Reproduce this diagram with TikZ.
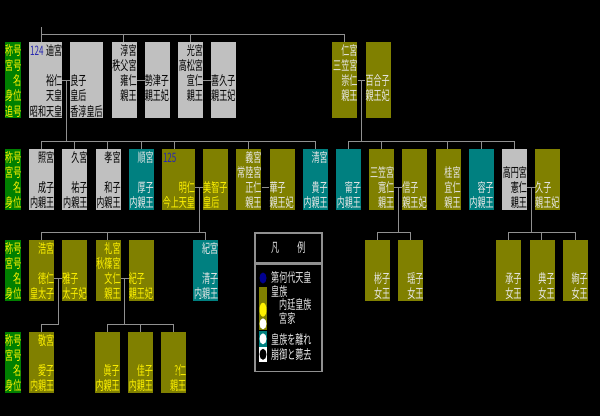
\documentclass[tikz,border=0pt]{standalone}
\usepackage{fontspec}
\usetikzlibrary{positioning,shapes.geometric}

\newfontfamily\jpfam[FakeStretch=0.62]{Noto Sans CJK JP}
\newcommand\jpfont{\jpfam\fontsize{13}{15.2}\selectfont}
\newcommand\kstrut{\rule[-2.2pt]{0pt}{15.2pt}}
\newcommand\rowfour[4]{\kstrut#1\\\kstrut#2\\\kstrut#3\\\kstrut#4}
\newcommand\rowfive[5]{\rowfour{#1}{#2}{#3}{#4}\\\kstrut#5}

\definecolor{kOlive}{HTML}{808000}
\definecolor{kTeal}{HTML}{008080}
\definecolor{kGray}{HTML}{C0C0C0}
\definecolor{kGreen}{HTML}{008000}
\definecolor{kLine}{HTML}{909090}
\definecolor{kPale}{HTML}{E8E8E8}
\definecolor{kNavy}{HTML}{000090}
\definecolor{kNum}{HTML}{2828B0}

\begin{document}
\begin{tikzpicture}[x=1pt,y=-1pt,node distance=7.8pt,
	hako/.style={rectangle,inner sep=0pt,anchor=north west,text width=25pt,align=right,font=\jpfont},
	hiroi/.style={text width=33pt},
	tsuma/.style={align=left},
	naitei/.style={hako,fill=kOlive,text=yellow},
	miyake/.style={hako,fill=kOlive,text=kPale},
	rikan/.style={hako,fill=kTeal,text=kPale},
	hogyo/.style={hako,fill=kGray,text=black},
	koumoku/.style={hako,fill=kGreen,text=yellow,text width=16pt},
	bangou/.style={inner sep=0pt,anchor=north west,text=kNum,font=\jpfont},
	kei/.style={draw=kLine,line width=1pt},
	maru/.style={ellipse,inner sep=0pt,minimum width=7pt,minimum height=11pt},
	iro/.style={rectangle,inner sep=0pt,minimum width=8pt},
	setsumei/.style={anchor=west,inner sep=0pt,text=kPale,font=\jpfont}]

	\useasboundingbox (0,0) rectangle (600,416);
	\fill[black] (0,0) rectangle (600,416);

	% koumoku
	\node[koumoku] (koumoku1) at (5,42) {\rowfive{称号}{宮号}{名}{身位}{追号}};
	\node[koumoku] (koumoku2) at (5,149) {\rowfour{称号}{宮号}{名}{身位}};
	\node[koumoku] (koumoku3) at (5,240) {\rowfour{称号}{宮号}{名}{身位}};
	\node[koumoku] (koumoku4) at (5,332) {\rowfour{称号}{宮号}{名}{身位}};

	% sedai 1
	\node[hogyo,hiroi] (hirohito) at (29,42) {\rowfive{迪宮}{}{裕仁}{天皇}{昭和天皇}};
		\node[bangou] (dai124) at ([xshift=1pt]hirohito.north west) {\kstrut 124};
	\node[hogyo,hiroi,tsuma,right=of hirohito] (nagako) {\rowfive{}{}{良子}{皇后}{香淳皇后}};
	\node[hogyo,right=of nagako] (yasuhito) {\rowfive{淳宮}{秩父宮}{雍仁}{親王}{}};
	\node[hogyo,tsuma,right=of yasuhito] (setsuko) {\rowfive{}{}{勢津子}{親王妃}{}};
	\node[hogyo,right=of setsuko] (nobuhito) {\rowfive{光宮}{高松宮}{宣仁}{親王}{}};
	\node[hogyo,tsuma,right=of nobuhito] (kikuko) {\rowfive{}{}{喜久子}{親王妃}{}};
	\node[miyake] (takahito) at (332.2,42) {\rowfive{仁宮}{三笠宮}{崇仁}{親王}{}};
	\node[miyake,tsuma,right=of takahito] (yuriko) {\rowfive{}{}{百合子}{親王妃}{}};

	% sedai 2
	\node[hogyo] (shigeko) at (29,149) {\rowfour{照宮}{}{成子}{内親王}};
	\node[hogyo,right=of shigeko] (sachiko) {\rowfour{久宮}{}{祐子}{内親王}};
	\node[hogyo,right=of sachiko] (kazuko) {\rowfour{孝宮}{}{和子}{内親王}};
	\node[rikan,right=of kazuko] (atsuko) {\rowfour{順宮}{}{厚子}{内親王}};
	\node[naitei,hiroi,right=of atsuko] (akihito) {\rowfour{}{}{明仁}{今上天皇}};
		\node[bangou] (dai125) at ([xshift=1pt]akihito.north west) {\kstrut 125};
	\node[naitei,tsuma,right=of akihito] (michiko) {\rowfour{}{}{美智子}{皇后}};
	\node[miyake,right=of michiko] (masahito) {\rowfour{義宮}{常陸宮}{正仁}{親王}};
	\node[miyake,tsuma,right=of masahito] (hanako) {\rowfour{}{}{華子}{親王妃}};
	\node[rikan,right=of hanako] (takako) {\rowfour{清宮}{}{貴子}{内親王}};
	\node[rikan,right=of takako] (yasuko) {\rowfour{}{}{甯子}{内親王}};
	\node[miyake,right=of yasuko] (tomohito) {\rowfour{}{三笠宮}{寬仁}{親王}};
	\node[miyake,tsuma,right=of tomohito] (nobuko) {\rowfour{}{}{信子}{親王妃}};
	\node[miyake,right=of nobuko] (yoshihito) {\rowfour{}{桂宮}{宜仁}{親王}};
	\node[rikan,right=of yoshihito] (masakoS) {\rowfour{}{}{容子}{内親王}};
	\node[hogyo,right=of masakoS] (norihito) {\rowfour{}{高円宮}{憲仁}{親王}};
	\node[miyake,tsuma,right=of norihito] (hisako) {\rowfour{}{}{久子}{親王妃}};

	% sedai 3
	\node[naitei] (naruhito) at (29,240) {\rowfour{浩宮}{}{徳仁}{皇太子}};
	\node[naitei,tsuma,right=of naruhito] (masako) {\rowfour{}{}{雅子}{太子妃}};
	\node[naitei,right=of masako] (fumihito) {\rowfour{礼宮}{秋篠宮}{文仁}{親王}};
	\node[naitei,tsuma,right=of fumihito] (kiko) {\rowfour{}{}{紀子}{親王妃}};
	\node[rikan] (sayako) at (193,240) {\rowfour{紀宮}{}{清子}{内親王}};
	\node[miyake] (akiko) at (365,240) {\rowfour{}{}{彬子}{女王}};
	\node[miyake,right=of akiko] (yoko) {\rowfour{}{}{瑶子}{女王}};
	\node[miyake] (tsuguko) at (496.2,240) {\rowfour{}{}{承子}{女王}};
	\node[miyake,right=of tsuguko] (noriko) {\rowfour{}{}{典子}{女王}};
	\node[miyake,right=of noriko] (ayako) {\rowfour{}{}{絢子}{女王}};

	% sedai 4
	\node[naitei] (aiko) at (29,332) {\rowfour{敬宮}{}{愛子}{内親王}};
	\node[naitei] (mako) at (94.6,332) {\rowfour{}{}{眞子}{内親王}};
	\node[naitei,right=of mako] (kako) {\rowfour{}{}{佳子}{内親王}};
	\node[naitei,right=of kako] (hisahito) {\rowfour{}{}{?仁}{親王}};

	% fuufu
	\foreach \otto/\yome/\en in {hirohito/nagako/kHiro,yasuhito/setsuko/kYasu,nobuhito/kikuko/kNobu,takahito/yuriko/kTaka,
		akihito/michiko/kAki,masahito/hanako/kMasa,tomohito/nobuko/kTomo,norihito/hisako/kNori,
		naruhito/masako/kNaru,fumihito/kiko/kFumi}
		\draw[kei] ([yshift=-38pt]\otto.north east) -- coordinate[midway] (\en) ([yshift=-38pt]\yome.north west);

	% oyako
	\coordinate (oya) at (41.5,27);
	\foreach \ko in {hirohito,yasuhito,nobuhito,takahito}
		\draw[kei] (oya) |- ([shift={(12.5pt,7.5pt)}]\ko.north west) -- ([xshift=12.5pt]\ko.north west);
	\foreach \ko in {shigeko,sachiko,kazuko,atsuko,akihito,masahito,takako}
		\draw[kei] (kHiro) |- ([shift={(12.5pt,7.5pt)}]\ko.north west) -- ([xshift=12.5pt]\ko.north west);
	\foreach \ko in {yasuko,tomohito,yoshihito,masakoS,norihito}
		\draw[kei] (kTaka) |- ([shift={(12.5pt,7.5pt)}]\ko.north west) -- ([xshift=12.5pt]\ko.north west);
	\foreach \ko in {naruhito,fumihito,sayako}
		\draw[kei] (kAki) |- ([shift={(12.5pt,7.5pt)}]\ko.north west) -- ([xshift=12.5pt]\ko.north west);
	\foreach \ko in {akiko,yoko}
		\draw[kei] (kTomo) |- ([shift={(12.5pt,7.5pt)}]\ko.north west) -- ([xshift=12.5pt]\ko.north west);
	\foreach \ko in {tsuguko,noriko,ayako}
		\draw[kei] (kNori) |- ([shift={(12.5pt,7.5pt)}]\ko.north west) -- ([xshift=12.5pt]\ko.north west);
	\foreach \ko in {aiko}
		\draw[kei] (kNaru) |- ([shift={(12.5pt,7.5pt)}]\ko.north west) -- ([xshift=12.5pt]\ko.north west);
	\foreach \ko in {mako,kako,hisahito}
		\draw[kei] (kFumi) |- ([shift={(12.5pt,7.5pt)}]\ko.north west) -- ([xshift=12.5pt]\ko.north west);

	% hanrei
	\node[draw=kLine,line width=1.5pt,minimum width=67pt,minimum height=30pt,inner sep=0pt,anchor=north west,text=kPale,font=\jpfont] (hanrei) at (254,232) {凡\hspace{18pt}例};
	\node[draw=kLine,line width=1.5pt,minimum width=67pt,minimum height=107pt,inner sep=0pt,below=0pt of hanrei] (hanreiHako) {};

		\node[maru,fill=kNavy] (aoMaru) at (263,278) {};
		\node[iro,fill=kOlive,minimum height=43.5pt] (oliveIro) at (263,308.5) {};
		\node[maru,fill=yellow,minimum height=14pt] (kiMaru) at (263,309.7) {};
		\node[maru,fill=white] (shiroMaru) at (263,323.8) {};
		\node[iro,fill=kTeal,minimum height=16pt] (tealIro) at (263,338.5) {};
		\node[maru,fill=white] (rikanMaru) at (263,338.8) {};
		\node[iro,fill=white,minimum height=15pt] (shiroIro) at (263,354.3) {};
		\node[maru,fill=black] (kuroMaru) at (263,354.3) {};

		\node[setsumei] (tDai) at (271,277.3) {第何代天皇};
		\node[setsumei] (tKozoku) at (271,291.7) {皇族};
		\node[setsumei] (tNaitei) at (279,304.5) {内廷皇族};
		\node[setsumei] (tMiyake) at (279,318.5) {宮家};
		\node[setsumei] (tRikan) at (271,339.5) {皇族を離れ};
		\node[setsumei] (tHogyo) at (271,354.3) {崩御と薨去};
\end{tikzpicture}
\end{document}
